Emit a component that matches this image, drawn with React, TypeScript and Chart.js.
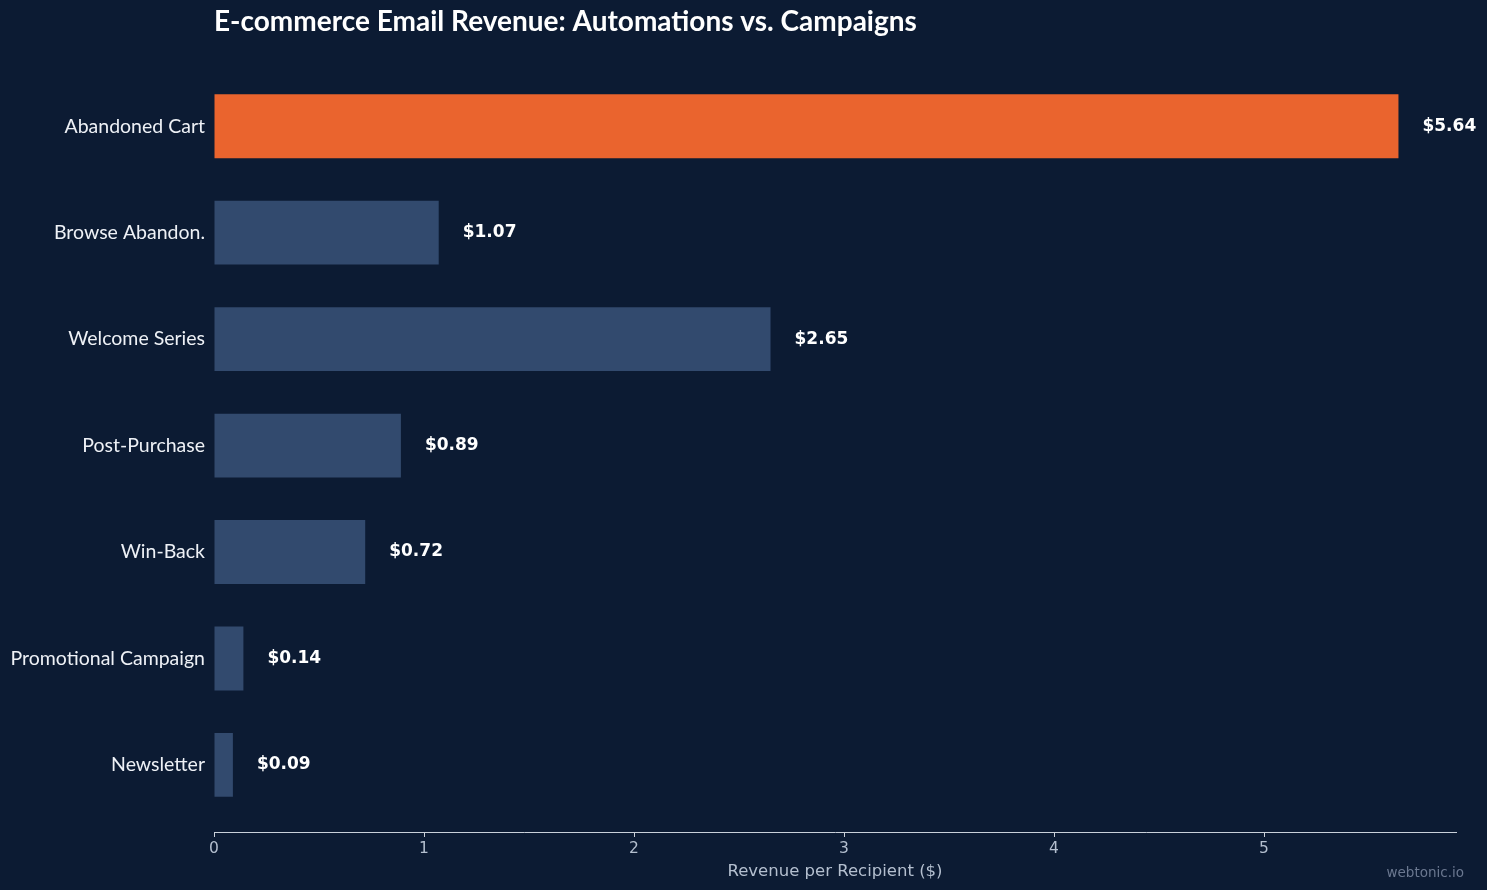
import React, { useEffect, useRef } from "react";
import { Chart, registerables } from "chart.js";

Chart.register(...registerables);

const categories = [
  "Abandoned Cart",
  "Browse Abandon.",
  "Welcome Series",
  "Post-Purchase",
  "Win-Back",
  "Promotional Campaign",
  "Newsletter",
];
const revenue = [5.64, 1.07, 2.65, 0.89, 0.72, 0.14, 0.09];
const valueLabels = ["$5.64", "$1.07", "$2.65", "$0.89", "$0.72", "$0.14", "$0.09"];
const xTicks = [0, 1, 2, 3, 4, 5];
const titleText = "E-commerce Email Revenue: Automations vs. Campaigns";
const xAxisTitle = "Revenue per Recipient ($)";
const watermark = "webtonic.io";

const BG = "#0c1b33";
const ORANGE = "#ea642e";
const BLUE = "#324a6e";

export default function App() {
  const ref = useRef<HTMLCanvasElement | null>(null);
  useEffect(() => {
    if (!ref.current) return;
    const overlay = {
      id: "overlay",
      beforeDraw(chart: any) {
        const ctx = chart.ctx;
        ctx.save();
        ctx.fillStyle = BG;
        ctx.fillRect(0, 0, chart.width, chart.height);
        ctx.restore();
      },
      afterDraw(chart: any) {
        const ctx = chart.ctx;
        const area = chart.chartArea;
        ctx.save();
        ctx.fillStyle = "#ffffff";
        ctx.font = "bold 28px Lato";
        ctx.textAlign = "left";
        ctx.textBaseline = "alphabetic";
        ctx.fillText(titleText, area.left, 31);
        const meta = chart.getDatasetMeta(0);
        ctx.font = "bold 17px 'DejaVu Sans'";
        ctx.textBaseline = "middle";
        meta.data.forEach((bar: any, i: number) => {
          ctx.fillText(valueLabels[i], bar.x + 24, bar.y);
        });
        ctx.fillStyle = "#6b7890";
        ctx.font = "13.5px 'DejaVu Sans'";
        ctx.textAlign = "right";
        ctx.textBaseline = "alphabetic";
        ctx.fillText(watermark, 1464, 877);
        ctx.restore();
      },
    };
    const chart = new Chart(ref.current, {
      type: "bar",
      data: {
        datasets: [
          {
            data: revenue.map((v, i) => ({ x: v, y: i })),
            backgroundColor: revenue.map((_, i) => (i === 0 ? ORANGE : BLUE)),
            borderWidth: 0,
            barPercentage: 0.6,
            categoryPercentage: 1,
          },
        ],
      },
      options: {
        indexAxis: "y",
        animation: false,
        responsive: false,
        maintainAspectRatio: false,
        layout: { padding: { left: 0, right: 31, top: 73, bottom: 8 } },
        plugins: {
          legend: { display: false },
          tooltip: { enabled: false },
          title: { display: false },
        },
        scales: {
          y: {
            type: "linear",
            reverse: true,
            offset: false,
            min: -0.5,
            max: 6.63,
            afterBuildTicks: (scale: any) => {
              scale.ticks = categories.map((_, i) => ({ value: i }));
            },
            afterFit: (scale: any) => {
              scale.width = 214;
            },
            ticks: {
              callback: (v: any) => categories[v as number] ?? "",
              color: "#eef1f6",
              font: { family: "Lato", size: 19.5 },
              padding: 9,
              autoSkip: false,
            },
            grid: { display: false, drawTicks: false, tickLength: 0 },
            border: { display: false },
          },
          x: {
            type: "linear",
            min: 0,
            max: 5.914,
            afterBuildTicks: (scale: any) => {
              scale.ticks = xTicks.map((v) => ({ value: v }));
            },
            afterFit: (scale: any) => {
              scale.height = 50;
            },
            ticks: {
              color: "#b4bfcf",
              font: { family: "DejaVu Sans", size: 15.5 },
              padding: 3,
              autoSkip: false,
              maxRotation: 0,
            },
            grid: {
              drawOnChartArea: false,
              drawTicks: true,
              tickLength: 5,
              color: "#c9d0da",
            },
            border: { display: true, color: "#c9d0da", width: 1 },
            title: {
              display: true,
              text: xAxisTitle,
              color: "#b4bfcf",
              font: { family: "DejaVu Sans", size: 16.5 },
              padding: { top: 3, bottom: 0 },
            },
          },
        },
      },
      plugins: [overlay],
    } as any);
    return () => chart.destroy();
  }, []);
  return (
    <div style={{ position: "fixed", left: 0, top: 0, width: 1487, height: 890, background: BG }}>
      <canvas ref={ref} width={1487} height={890} style={{ width: 1487, height: 890, display: "block" }} />
    </div>
  );
}
